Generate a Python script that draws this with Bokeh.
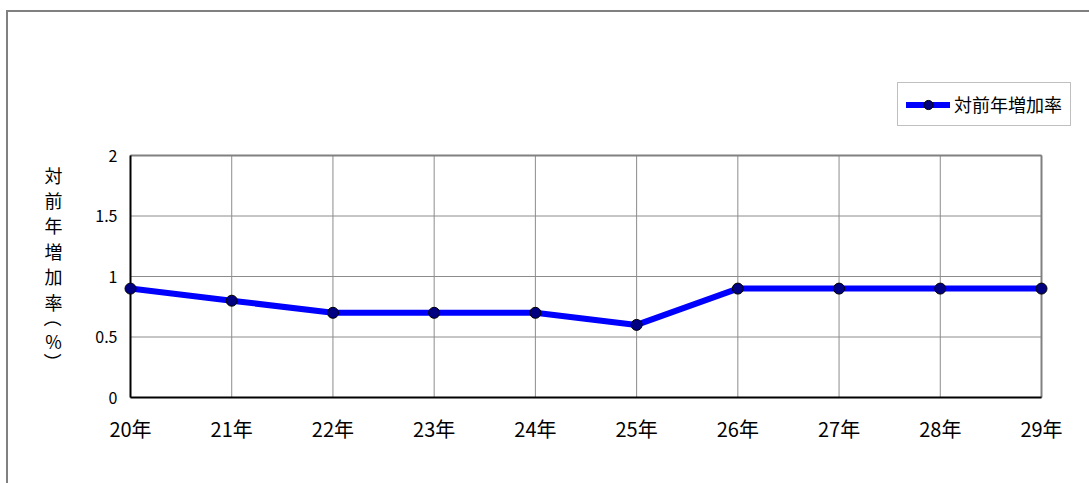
import math
from bokeh.plotting import figure
from bokeh.models import Range1d, Legend, LegendItem
from bokeh.core.properties import value
from bokeh.embed import file_html
from bokeh.resources import INLINE

# ---- data ----
categories = ["20年", "21年", "22年", "23年", "24年", "25年", "26年", "27年", "28年", "29年"]
rates = [0.9, 0.8, 0.7, 0.7, 0.7, 0.6, 0.9, 0.9, 0.9, 0.9]
y_ticks = [0, 0.5, 1, 1.5, 2]
y_tick_labels = ["0", "0.5", "1", "1.5", "2"]
series_name = "対前年増加率"
y_title = "対前年増加率（%）"

FONT = "Noto Sans CJK JP"
n = len(categories)
xs = list(range(n))

# ---- layout (page pixels) ----
CANVAS_X, CANVAS_Y = 8, 12          # canvas origin on page (after border/margin)
CANVAS_W, CANVAS_H = 1081, 471
PLOT_L, PLOT_R = 130, 1041          # x of first/last category
PLOT_T, PLOT_B = 155, 397           # y of top/bottom tick
ux = (PLOT_R - PLOT_L) / (n - 1)
uy = (PLOT_B - PLOT_T) / (y_ticks[-1] - y_ticks[0])

x_start = (CANVAS_X - PLOT_L) / ux
x_end = (CANVAS_X + CANVAS_W - PLOT_L) / ux
y_end = y_ticks[0] + (PLOT_B - CANVAS_Y) / uy
y_start = y_ticks[0] + (PLOT_B - (CANVAS_Y + CANVAS_H)) / uy

p = figure(
    frame_width=CANVAS_W, frame_height=CANVAS_H,
    min_border=0,
    x_range=Range1d(x_start, x_end),
    y_range=Range1d(y_start, y_end),
    output_backend="svg",
    toolbar_location=None,
)
p.styles = {"border-left": "2px solid #808080", "border-top": "2px solid #808080",
            "margin-left": "6px", "margin-top": "10px"}
p.outline_line_color = None
p.background_fill_color = "white"
p.border_fill_color = "white"
p.axis.visible = False
p.grid.visible = False

y0, y1 = y_ticks[0], y_ticks[-1]
# grid lines
p.segment(x0=xs, y0=[y0] * n, x1=xs, y1=[y1] * n, line_color="#8c8c8c", line_width=1)
p.segment(x0=[0] * len(y_ticks), y0=y_ticks, x1=[n - 1] * len(y_ticks), y1=y_ticks,
          line_color="#8c8c8c", line_width=1)
# plot-area borders
p.segment(x0=[0, n - 1], y0=[y1, y0], x1=[n - 1, n - 1], y1=[y1, y1],
          line_color="#808080", line_width=2)
p.segment(x0=[0, 0], y0=[y0, y0], x1=[0, n - 1], y1=[y1, y0],
          line_color="black", line_width=2)

# series
line_r = p.line(xs, rates, line_color="#0000FF", line_width=6,
                line_cap="round", line_join="round")
pts_r = p.scatter(xs, rates, marker="circle", size=11, fill_color="#000080",
                  line_color="black", line_width=1)

# x tick labels
p.text(x=xs, y=[y0] * n, text=categories, y_offset=31,
       text_font=value(FONT), text_font_size=value("20px"), text_color="black",
       text_align="center", text_baseline="middle")
# y tick labels
p.text(x=[0] * len(y_ticks), y=y_ticks, text=y_tick_labels, x_offset=-13,
       text_font=value(FONT), text_font_size=value("16px"), text_color="black",
       text_align="right", text_baseline="middle")

# vertical y-axis title (one character per line, brackets turned)
chars = list(y_title)
centers = [174 + 25.4 * i for i in range(6)] + [322, 340, 357]
offs, angs = [], []
for c, cy in zip(chars, centers):
    if c == "（":
        offs.append(cy - 4.5 - PLOT_T)
        angs.append(-math.pi / 2)
    elif c == "）":
        offs.append(cy + 4.5 - PLOT_T)
        angs.append(-math.pi / 2)
    else:
        offs.append(cy - PLOT_T)
        angs.append(0)
p.text(x=[0] * len(chars), y=[y1] * len(chars), text=chars,
       x_offset=53 - PLOT_L, y_offset=offs, angle=angs,
       text_font=value(FONT), text_font_size=value("18px"), text_color="black",
       text_align="center", text_baseline="middle")

# legend
legend = Legend(
    items=[LegendItem(label=series_name, renderers=[line_r, pts_r])],
    location=(897 - CANVAS_X, (CANVAS_Y + CANVAS_H) - 126),
    orientation="vertical",
    label_text_font=FONT,
    label_text_font_size="18px",
    label_text_color="black",
    glyph_width=44,
    glyph_height=23,
    label_height=23,
    label_standoff=4,
    padding=8,
    margin=0,
    border_line_color="#808080",
    border_line_width=1,
    background_fill_color="white",
    background_fill_alpha=1,
)
p.add_layout(legend, "center")

open("out.html", "w").write(file_html(p, INLINE))
